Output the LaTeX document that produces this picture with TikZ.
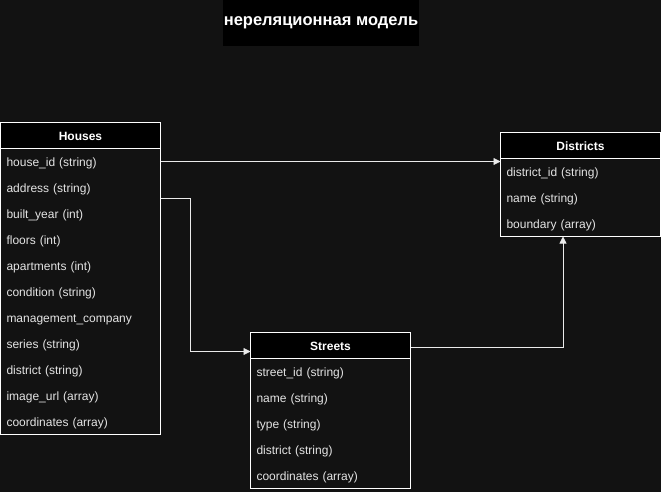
\documentclass[tikz,border=0pt]{standalone}
\usepackage{fontspec}
\setmainfont{Liberation Sans}
\usetikzlibrary{arrows.meta,calc,positioning}
\definecolor{canvas}{HTML}{121212}
\definecolor{rowtext}{HTML}{E4E4E4}
\definecolor{linkline}{HTML}{EAEAEA}

\begin{document}
\begin{tikzpicture}[
  x=1pt, y=-1pt,
  node distance=0pt,
  every node/.style={font=\fontsize{12}{14}\selectfont},
  titlebox/.style={
    fill=black,
    text=white,
    minimum width=196pt,
    minimum height=46pt,
    inner sep=0pt,
    font=\fontsize{16.5}{19}\selectfont\bfseries
  },
  tablehead/.style={
    draw=white,
    line width=0.8pt,
    fill=black,
    text=white,
    minimum width=160pt,
    minimum height=26pt,
    inner sep=0pt,
    outer sep=0pt,
    text height=9pt,
    text depth=0pt,
    font=\fontsize{12}{14}\selectfont\bfseries
  },
  field/.style={
    text=rowtext,
    text width=148pt,
    inner xsep=6pt,
    inner ysep=0pt,
    outer sep=0pt,
    minimum height=26pt,
    text height=9pt,
    text depth=0pt,
    align=left
  },
  tablebox/.style={draw=white, line width=0.8pt},
  link/.style={-{Triangle[length=7pt,width=7pt]}, line width=0.8pt, draw=linkline}
]
\fill[canvas] (0,0) rectangle (661,492);

\node[titlebox] (title) at (321,23) {нереляционная модель};

% Houses
\node[tablehead] (houses) at (80.5,135.5) {Houses};
\node[field, below=of houses] (h1) {house\_id (string)};
\node[field, below=of h1] (h2) {address (string)};
\node[field, below=of h2] (h3) {built\_year (int)};
\node[field, below=of h3] (h4) {floors (int)};
\node[field, below=of h4] (h5) {apartments (int)};
\node[field, below=of h5] (h6) {condition (string)};
\node[field, below=of h6] (h7) {management\_company};
\node[field, below=of h7] (h8) {series (string)};
\node[field, below=of h8] (h9) {district (string)};
\node[field, below=of h9] (h10) {image\_url (array)};
\node[field, below=of h10] (h11) {coordinates (array)};
\draw[tablebox] (houses.south west) rectangle (h11.south east);

% Districts
\node[tablehead] (districts) at (580.5,145.5) {Districts};
\node[field, below=of districts] (d1) {district\_id (string)};
\node[field, below=of d1] (d2) {name (string)};
\node[field, below=of d2] (d3) {boundary (array)};
\draw[tablebox] (districts.south west) rectangle (d3.south east);

% Streets
\node[tablehead] (streets) at (330.5,345.5) {Streets};
\node[field, below=of streets] (s1) {street\_id (string)};
\node[field, below=of s1] (s2) {name (string)};
\node[field, below=of s2] (s3) {type (string)};
\node[field, below=of s3] (s4) {district (string)};
\node[field, below=of s4] (s5) {coordinates (array)};
\draw[tablebox] (streets.south west) rectangle (s5.south east);

% links
\draw[link] (h1.east) -- (h1.east -| districts.west);
\coordinate (houseOut) at ($(h2.south east)+(0,-2)$);
\coordinate (streetIn) at ($(streets.west)+(0,6)$);
\draw[link] (houseOut) -- ++(30,0) |- (streetIn);
\coordinate (streetOut) at ($(streets.east)+(0,2)$);
\coordinate (districtIn) at ($(d3.south)+(-17.5,0)$);
\draw[link] (streetOut) -| (districtIn);
\end{tikzpicture}
\end{document}
